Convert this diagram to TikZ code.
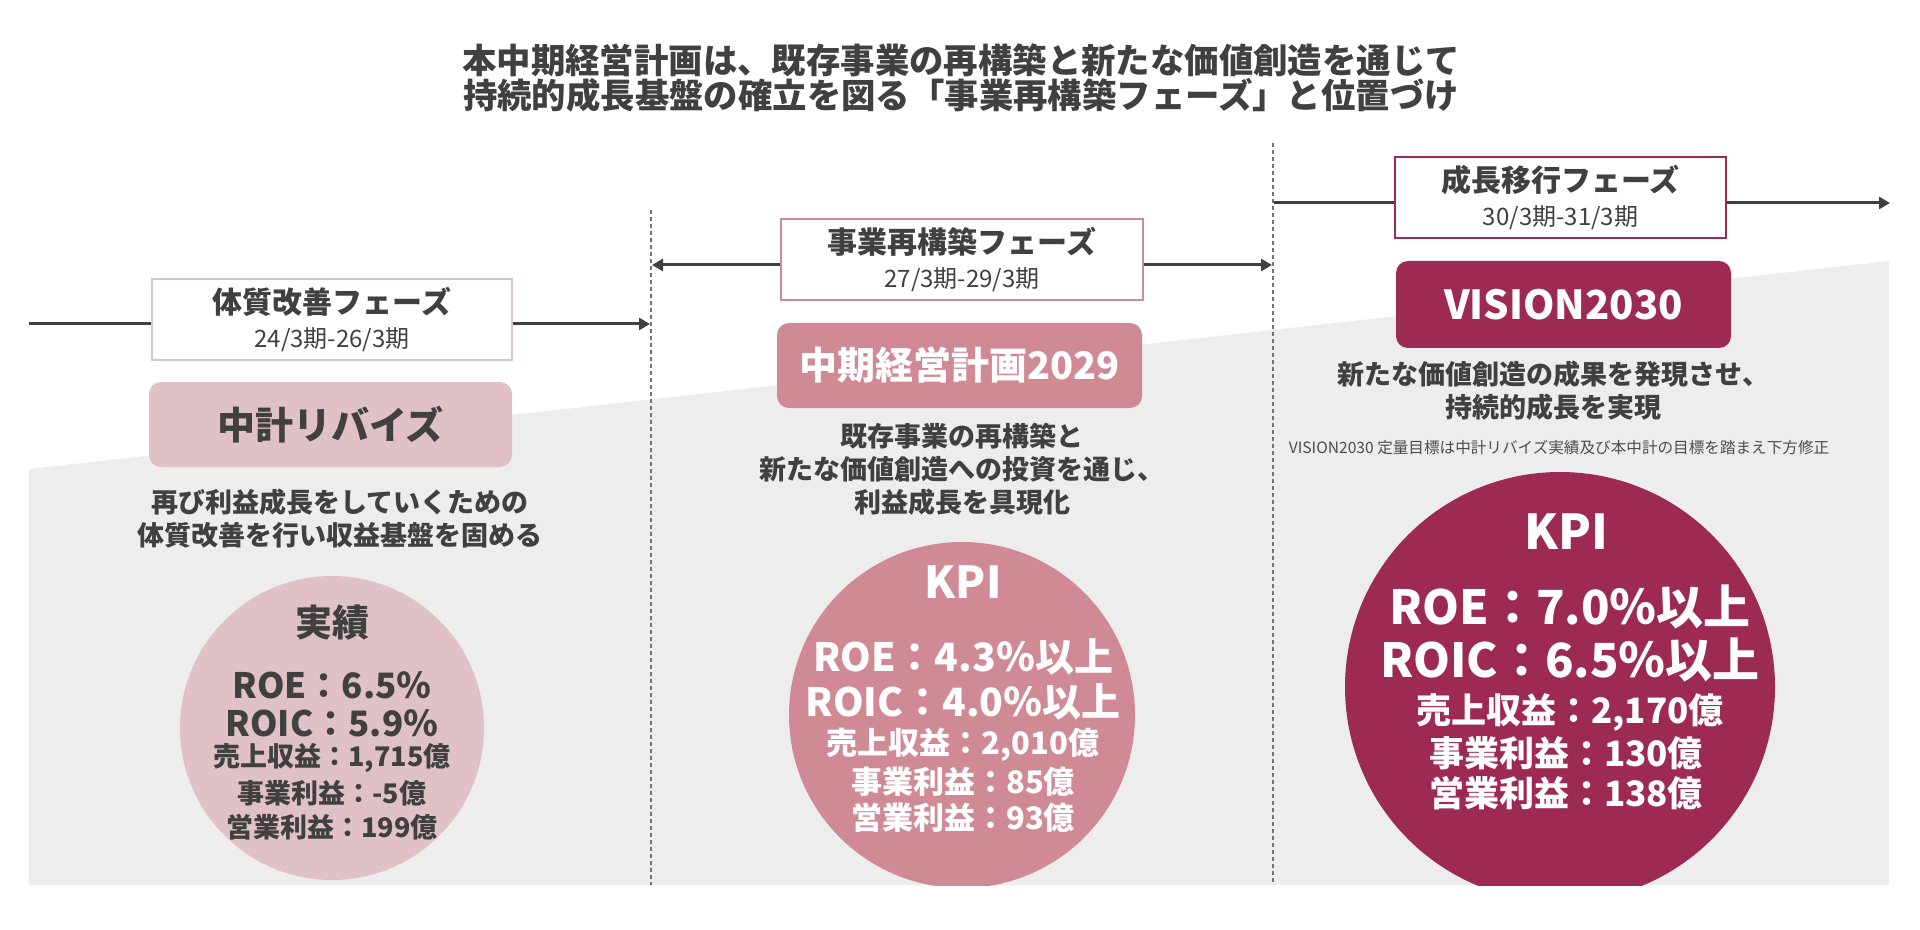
\documentclass[tikz,border=0pt]{standalone}
\usepackage{fontspec}
\setmainfont{Noto Sans CJK JP}
\usetikzlibrary{arrows.meta}

\definecolor{inkgray}{HTML}{404040}
\definecolor{bggray}{HTML}{EDEDED}
\definecolor{rosea}{HTML}{E0C1C5}
\definecolor{roseb}{HTML}{D08A95}
\definecolor{rosec}{HTML}{9C2A52}
\definecolor{framea}{HTML}{DCC4C8}
\definecolor{frameb}{HTML}{C98D98}

\tikzset{
  phasebox/.style={draw, fill=white, line width=1pt, minimum height=40.5pt, inner sep=0pt, align=center, text=inkgray, font=\fontsize{12}{17}\selectfont},
  planbox/.style={rounded corners=6pt, minimum height=42.5pt, inner sep=0pt, font=\fontsize{19}{19}\selectfont\bfseries},
  desc/.style={align=center, text=inkgray, font=\fontsize{13.5}{16.5}\selectfont\bfseries},
  timeline/.style={draw=inkgray, line width=1.5pt},
  headright/.style={-{Triangle[length=5.5pt,width=6pt]}},
  divider/.style={draw=black!55, line width=0.6pt, dash pattern=on 2pt off 1.5pt},
  kpidisc/.style={circle, inner sep=0pt},
  kpiline/.style={inner sep=0pt, font=\fontsize{#1}{#1}\selectfont\bfseries},
}

\begin{document}
\begin{tikzpicture}[x=0.5pt, y=-0.5pt]
\useasboundingbox (0,0) rectangle (1920,930);
\fill[white] (0,0) rectangle (1920,930);
\fill[bggray] (29,469) -- (1889,261) -- (1889,885) -- (29,885) -- cycle;

\node[font=\fontsize{17.2}{17.5}\selectfont\bfseries, text=inkgray, align=center] (headline) at (961,78)
  {本中期経営計画は、既存事業の再構築と新たな価値創造を通じて\\持続的成長基盤の確立を図る「事業再構築フェーズ」と位置づけ};

\coordinate (d1t) at (651,210);
\coordinate (d1b) at (651,885);
\coordinate (d2t) at (1273,143);
\coordinate (d2b) at (1273,885);
\draw[divider] (d1t) -- (d1b);
\draw[divider] (d2t) -- (d2b);

\begin{scope}
\clip (0,0) rectangle (1920,885);
\node[kpidisc, fill=rosea, minimum size=152pt] (disc1) at (332,728) {};
\node[kpidisc, fill=roseb, minimum size=173pt] (disc2) at (962,715) {};
\node[kpidisc, fill=rosec, minimum size=215pt] (disc3) at (1560,687) {};
\end{scope}

\node[phasebox, draw=framea, minimum width=180pt] (ph1) at (332,319.5)
  {{\fontsize{15}{17}\selectfont\bfseries 体質改善フェーズ}\\24/3期-26/3期};
\node[phasebox, draw=frameb, minimum width=181pt] (ph2) at (962,259.5)
  {{\fontsize{15}{17}\selectfont\bfseries 事業再構築フェーズ}\\27/3期-29/3期};
\node[phasebox, draw=rosec, minimum width=165.5pt] (ph3) at (1560.5,197.5)
  {{\fontsize{15}{17}\selectfont\bfseries 成長移行フェーズ}\\30/3期-31/3期};

\coordinate (a1s) at (29,324);
\coordinate (a1e) at (650,324);
\coordinate (a2s) at (652,265);
\coordinate (a2e) at (1272,265);
\coordinate (a3s) at (1274,203);
\coordinate (a3e) at (1890,203);
\draw[timeline] (a1s) -- (a1s -| ph1.west);
\draw[timeline, headright] (a1s -| ph1.east) -- (a1e);
\draw[timeline, headright] (a2s -| ph2.west) -- (a2s);
\draw[timeline, headright] (a2s -| ph2.east) -- (a2e);
\draw[timeline] (a3s) -- (a3s -| ph3.west);
\draw[timeline, headright] (a3s -| ph3.east) -- (a3e);

\node[planbox, fill=rosea, text=inkgray, minimum width=181.5pt] (planA) at (330.5,424.5) {中計リバイズ};
\node[planbox, fill=roseb, text=white, minimum width=182.5pt] (planB) at (959.5,365.5) {中期経営計画2029};
\node[planbox, fill=rosec, text=white, minimum width=167.5pt, minimum height=43.5pt, font=\fontsize{20}{20}\selectfont\bfseries] (planC) at (1563.5,304.5) {VISION2030};

\node[desc] (descA) at (340,519) {再び利益成長をしていくための\\体質改善を行い収益基盤を固める};
\node[desc] (descB) at (962,469) {既存事業の再構築と\\新たな価値創造への投資を通じ、\\利益成長を具現化};
\node[desc] (descC) at (1553,391) {新たな価値創造の成果を発現させ、\\持続的成長を実現};
\node[text=black!70, font=\fontsize{7.8}{9}\selectfont] (note) at (1559,448) {VISION2030 定量目標は中計リバイズ実績及び本中計の目標を踏まえ下方修正};

\begin{scope}[text=inkgray]
\node[kpiline=18.5] (r1head) at (332,623) {実績};
\node[kpiline=17.5] (r1roe) at (332,685) {ROE：6.5％};
\node[kpiline=17.5] (r1roic) at (332,723) {ROIC：5.9％};
\node[kpiline=13.5] (r1sales) at (332,758) {売上収益：1,715億};
\node[kpiline=13.5] (r1biz) at (332,793) {事業利益：-5億};
\node[kpiline=13.5] (r1op) at (332,827) {営業利益：199億};
\end{scope}

\begin{scope}[text=white]
\node[kpiline=22] (r2head) at (963,582) {KPI};
\node[kpiline=19.5] (r2roe) at (963,657) {ROE：4.3％以上};
\node[kpiline=19.5] (r2roic) at (963,702) {ROIC：4.0％以上};
\node[kpiline=15.5] (r2sales) at (963,745) {売上収益：2,010億};
\node[kpiline=15.5] (r2biz) at (963,782) {事業利益：85億};
\node[kpiline=15.5] (r2op) at (963,818) {営業利益：93億};

\node[kpiline=24] (r3head) at (1566,532) {KPI};
\node[kpiline=23.5] (r3roe) at (1570,607) {ROE：7.0％以上};
\node[kpiline=23.5] (r3roic) at (1570,660) {ROIC：6.5％以上};
\node[kpiline=17.5] (r3sales) at (1570,713) {売上収益：2,170億};
\node[kpiline=17.5] (r3biz) at (1566,753) {事業利益：130億};
\node[kpiline=17.5] (r3op) at (1566,793) {営業利益：138億};
\end{scope}
\end{tikzpicture}
\end{document}
